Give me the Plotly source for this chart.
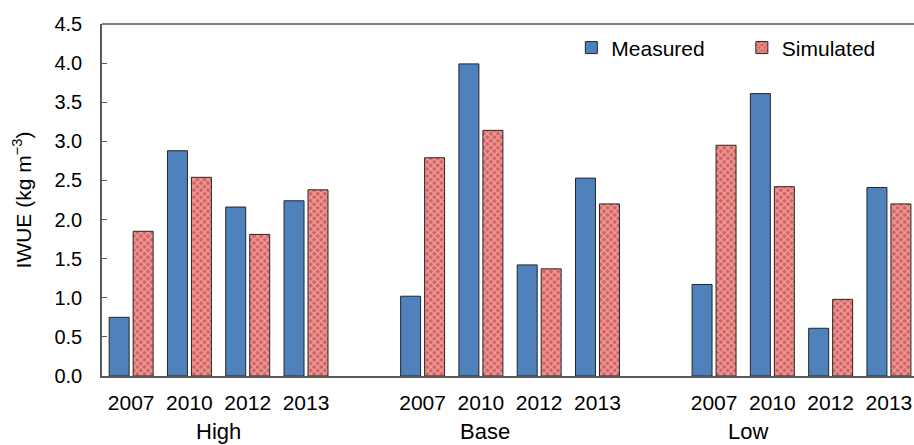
import plotly.graph_objects as go

groups = ["High", "Base", "Low"]
years = ["2007", "2010", "2012", "2013"]
measured = {
    "High": [0.75, 2.88, 2.16, 2.24],
    "Base": [1.02, 3.99, 1.42, 2.53],
    "Low": [1.17, 3.61, 0.61, 2.41],
}
simulated = {
    "High": [1.85, 2.54, 1.81, 2.38],
    "Base": [2.79, 3.14, 1.37, 2.20],
    "Low": [2.95, 2.42, 0.98, 2.20],
}
y_ticks = [0.0, 0.5, 1.0, 1.5, 2.0, 2.5, 3.0, 3.5, 4.0, 4.5]

# category keys, with blank spacer categories between groups
cats, ticktext, xm, ym, ys = [], [], [], [], []
for gi, g in enumerate(groups):
    for yi, yr in enumerate(years):
        key = f"{g} {yr}"
        cats.append(key)
        ticktext.append(yr)
        xm.append(key)
        ym.append(measured[g][yi])
        ys.append(simulated[g][yi])
    if gi < len(groups) - 1:
        cats.append(" " * (gi + 1))
        ticktext.append("")

FONT = "Liberation Sans, Arial, sans-serif"

fig = go.Figure()
fig.add_trace(go.Bar(
    x=xm, y=ym, name="Measured", legend="legend",
    marker=dict(color="#4F81BD", line=dict(color="#262626", width=1)),
))
fig.add_trace(go.Bar(
    x=xm, y=ys, name="Simulated", legend="legend2",
    marker=dict(color="#D9605E", line=dict(color="#262626", width=1),
                pattern=dict(shape="x", fgcolor="#F8DCDB", bgcolor="#D9605E",
                             size=5, solidity=0.5)),
))

group_pos = [1.5, 6.07, 10.58]
for g, p in zip(groups, group_pos):
    fig.add_annotation(x=p, xref="x", y=-0.159, yref="paper", text=g,
                       showarrow=False, yanchor="middle",
                       font=dict(size=22, color="black", family=FONT))

fig.add_shape(type="line", xref="paper", yref="paper", x0=0, x1=1, y0=1, y1=1,
              line=dict(color="#595959", width=1.5))

leg_common = dict(orientation="h", yanchor="middle", y=0.932, xanchor="left",
                  font=dict(size=21, color="black", family=FONT),
                  bgcolor="rgba(0,0,0,0)", itemwidth=30)

fig.update_layout(
    width=914, height=445,
    margin=dict(l=102, r=0, t=24, b=69),
    paper_bgcolor="white", plot_bgcolor="white",
    barmode="group", bargap=0.177, bargroupgap=0.167,
    font=dict(family=FONT, size=21, color="black"),
    showlegend=True,
    legend=dict(x=0.578, **leg_common),
    legend2=dict(x=0.788, **leg_common),
    xaxis=dict(type="category", categoryorder="array", categoryarray=cats,
               tickvals=cats, ticktext=ticktext, range=[-0.5, 13.43],
               showline=True, linecolor="#595959", linewidth=1.5,
               ticks="", showgrid=False, ticklabelstandoff=7,
               tickfont=dict(size=21)),
    yaxis=dict(range=[0, 4.5], tickvals=y_ticks,
               ticktext=[f"{v:.1f}" for v in y_ticks],
               showline=True, linecolor="#595959", linewidth=1.5,
               ticks="inside", ticklen=5, tickcolor="#595959",
               showgrid=False, zeroline=False, ticklabelstandoff=14,
               tickfont=dict(size=20),
               title=dict(text="IWUE (kg m<sup>−3</sup>)", font=dict(size=21),
                          standoff=17)),
)

fig.write_html("out.html", config={"displayModeBar": False},
               post_script="document.body.style.margin='0';document.body.style.overflow='hidden';")
